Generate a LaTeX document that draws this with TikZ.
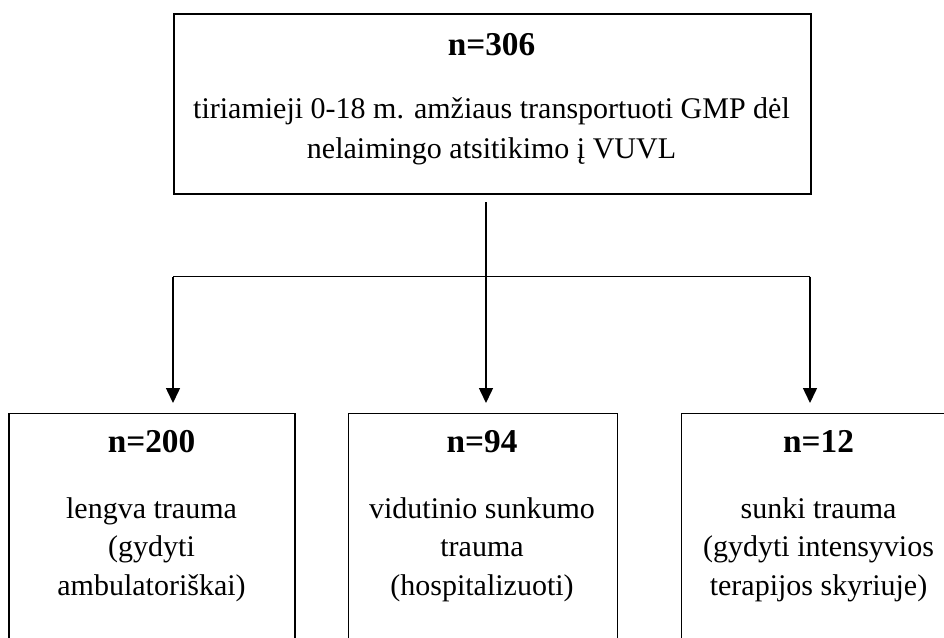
\documentclass[tikz,border=0pt]{standalone}
\usepackage{fontspec}
\setmainfont{Liberation Serif}
\usetikzlibrary{arrows.meta}
\begin{document}
\begin{tikzpicture}[x=1pt,y=-1pt,
  box/.style={draw,line width=1.5pt,inner sep=0pt,anchor=north west},
  num/.style={font=\fontsize{33.3}{38}\selectfont\bfseries,anchor=base,inner sep=0pt},
  txt/.style={font=\fontsize{30}{38}\selectfont,anchor=base,inner sep=0pt},
  conn/.style={line width=1.5pt},
  arr/.style={line width=1.5pt,-{Triangle[length=15pt,width=14pt]}}]
\useasboundingbox (0,0) rectangle (944,637);
% boxes
\node[box,minimum width=637pt,minimum height=180pt] (top) at (173,13) {};
\node[box,minimum width=286pt,minimum height=250pt] (lbox) at (8.3,412.5) {};
\node[box,minimum width=269pt,minimum height=250pt] (mbox) at (347.5,412.5) {};
\node[box,minimum width=276pt,minimum height=250pt] (rbox) at (680.7,412.5) {};
% top texts
\node[num] (t0) at (491.5,55) {n=306};
\node[txt] (t1) at (491.5,118) {tiriamieji 0-18 m. amžiaus transportuoti GMP dėl};
\node[txt] (t2) at (491.5,158) {nelaimingo atsitikimo į VUVL};
% left texts
\node[num] (l0) at (151.5,452.7) {n=200};
\node[txt] (l1) at (151.5,518) {lengva trauma};
\node[txt] (l2) at (151.5,556.7) {(gydyti};
\node[txt] (l3) at (151.5,595) {ambulatoriškai)};
% middle texts
\node[num] (m0) at (482,452.7) {n=94};
\node[txt] (m1) at (482,518) {vidutinio sunkumo};
\node[txt] (m2) at (482,556.7) {trauma};
\node[txt] (m3) at (482,595) {(hospitalizuoti)};
% right texts
\node[num] (r0) at (818.5,452.7) {n=12};
\node[txt] (r1) at (818.5,518) {sunki trauma};
\node[txt] (r2) at (818.5,556.7) {(gydyti intensyvios};
\node[txt] (r3) at (818.5,595) {terapijos skyriuje)};
% connectors
\coordinate (s) at (486,202);
\coordinate (j) at (486,276.7);
\coordinate (jl) at (173,276.7);
\coordinate (jr) at (810,276.7);
\coordinate (el) at (173,403);
\coordinate (em) at (486,403);
\coordinate (er) at (810,403);
\draw[conn] (s) -- (j);
\draw[conn] (jl) -- (jr);
\draw[arr] (jl) -- (el);
\draw[arr] (j) -- (em);
\draw[arr] (jr) -- (er);
\end{tikzpicture}
\end{document}
